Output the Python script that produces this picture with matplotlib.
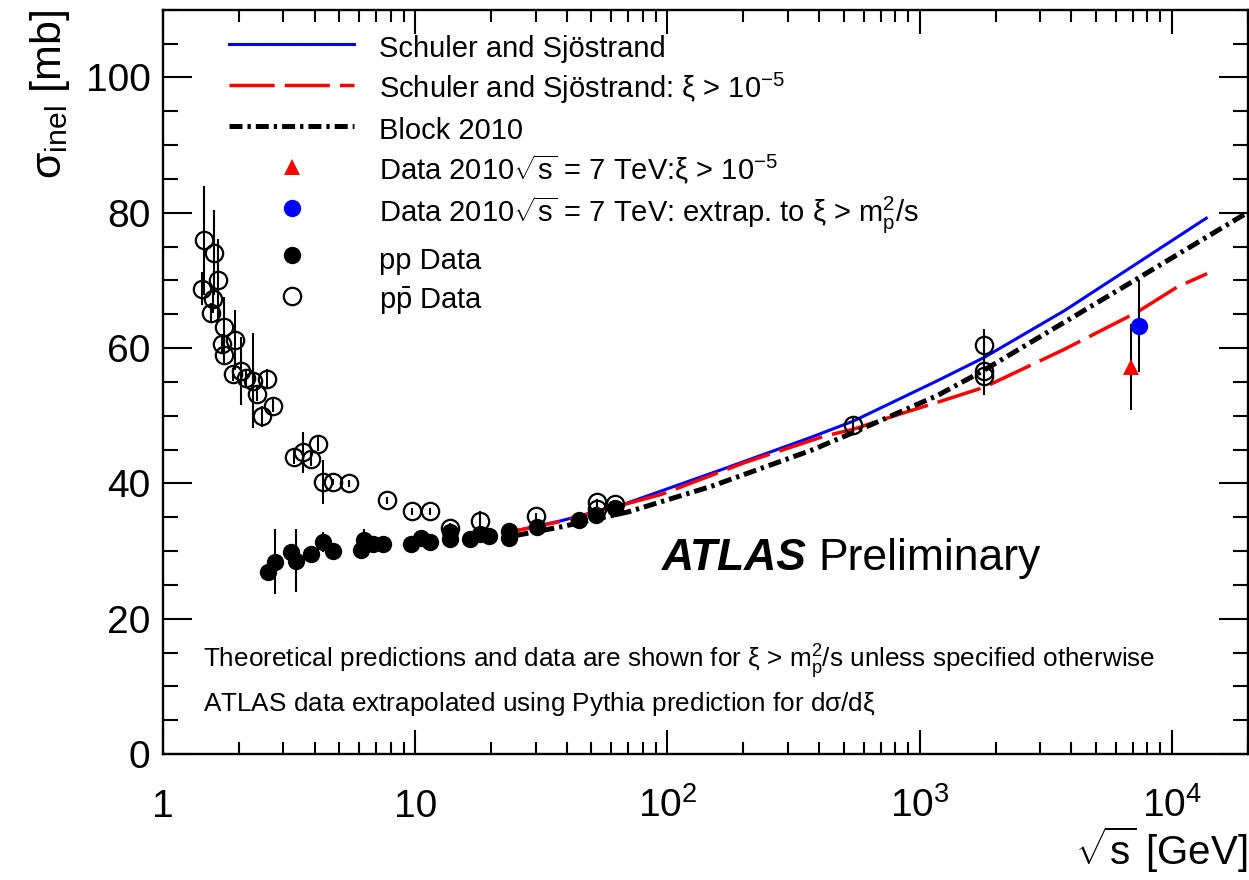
import matplotlib
matplotlib.use("Agg")
import matplotlib.pyplot as plt
import numpy as np
from matplotlib.ticker import FixedLocator, MultipleLocator, NullFormatter

plt.rcParams['font.family'] = ['Liberation Sans', 'DejaVu Sans']
plt.rcParams['mathtext.fontset'] = 'custom'
plt.rcParams['mathtext.rm'] = 'Liberation Sans'
plt.rcParams['mathtext.it'] = 'Liberation Sans:italic'
plt.rcParams['mathtext.bf'] = 'Liberation Sans:bold'
plt.rcParams['mathtext.sf'] = 'Liberation Sans'

# model curves (sqrt(s) in GeV, sigma in mb)
ss_x = [25, 38, 68, 160, 370, 545, 1180, 1800, 3740, 6800, 13700]
ss_y = [33.0, 34.5, 37.0, 41.9, 46.8, 49.2, 55.2, 58.6, 65.5, 71.8, 79.2]

ssxi_x = [25, 38, 95, 203, 420, 545, 795, 1180, 1800, 3740, 7280, 10480, 13800]
ssxi_y = [33.0, 34.4, 38.4, 43.1, 47.0, 48.0, 50.0, 52.0, 54.2, 59.8, 65.3, 69.0, 71.0]

block_x = [25, 38, 70, 150, 372, 552, 1178, 1775, 3740, 6820, 18900, 20000]
block_y = [32.3, 33.6, 35.8, 39.6, 44.9, 47.6, 53.0, 56.6, 63.8, 69.6, 79.5, 80.0]

# pp data
pp_x = [2.61, 2.77, 3.22, 3.38, 3.87, 4.30, 4.74, 6.10, 6.29, 6.78, 7.47, 9.61,
        10.5, 11.43, 13.7, 13.7, 16.5, 18.0, 19.7, 23.5, 23.5, 30.4, 44.5, 52.3, 61.8]
pp_y = [26.9, 28.4, 29.8, 28.6, 29.6, 31.3, 30.0, 30.1, 31.7, 31.0, 31.1, 31.1,
        32.0, 31.3, 31.8, 32.8, 31.8, 32.5, 32.2, 33.0, 32.0, 33.5, 34.6, 35.4, 36.3]
pp_err = [1.0, 4.8, 1.0, 4.7, 0.5, 1.5, 0.5, 0.5, 1.5, 1.0, 0.5, 0.5,
          0.5, 0.5, 0.5, 0.5, 0.5, 0.5, 0.5, 0.5, 0.5, 0.5, 0.5, 0.5, 0.5]

# ppbar data
ppb_x = [1.456, 1.59, 1.654, 1.43, 1.58, 1.556, 1.747, 1.926, 1.706, 1.747, 1.897,
         2.03, 2.14, 2.27, 2.35, 2.59, 2.73, 2.47, 3.32, 3.59, 3.87, 4.11, 4.30,
         4.71, 5.45, 7.70, 9.67, 11.43, 13.7, 18.0, 30.0, 52.6, 52.6, 61.8,
         546, 1800, 1800, 1800]
ppb_y = [75.9, 74.1, 70.1, 68.8, 67.2, 65.2, 63.1, 61.2, 60.6, 59.0, 56.1,
         56.6, 55.6, 55.2, 53.2, 55.4, 51.5, 49.9, 43.9, 44.6, 43.6, 45.8, 40.2,
         40.2, 40.0, 37.5, 35.9, 35.9, 33.4, 34.4, 35.2, 37.2, 36.2, 37.0,
         48.6, 60.5, 56.6, 55.9]
ppb_err = [8.0, 6.3, 6.0, 2.5, 2.0, 1.5, 4.5, 4.5, 1.5, 1.5, 1.0,
           5.0, 1.0, 7.0, 1.0, 1.5, 1.0, 1.5, 1.0, 3.0, 1.0, 1.0, 3.3,
           0.5, 0.5, 0.5, 0.5, 0.5, 0.8, 1.5, 0.5, 0.5, 0.5, 0.5,
           1.0, 2.3, 1.5, 2.8]

# ATLAS 7 TeV
atlas_xi_x, atlas_xi_y, atlas_xi_err = [6900], [57.2], [6.3]
atlas_ex_x, atlas_ex_y, atlas_ex_err = [7400], [63.3], [6.8]

fig = plt.figure(figsize=(12.49, 8.8), dpi=100)
ax = fig.add_axes([0.1305, 0.143, 0.8685, 0.846])

ax.plot(ss_x, ss_y, color='#0000ff', lw=2.2, zorder=2, label='Schuler and Sjöstrand')
ax.plot(ssxi_x, ssxi_y, color='#ff0000', lw=2.5, dashes=(13, 2.9), zorder=2,
        label=r'Schuler and Sjöstrand: $\mathrm{\xi}$ > 10$^{\mathrm{-5}}$')
ax.plot(block_x, block_y, color='k', lw=3.6, dashes=(2.6, 1.0, 0.66, 1.0), zorder=2,
        label='Block 2010')

ax.errorbar(ppb_x, ppb_y, yerr=ppb_err, fmt='none', ecolor='k', elinewidth=1.5, zorder=3)
ax.errorbar(pp_x, pp_y, yerr=pp_err, fmt='none', ecolor='k', elinewidth=1.5, zorder=3)
ax.errorbar(atlas_xi_x, atlas_xi_y, yerr=atlas_xi_err, fmt='none', ecolor='k', elinewidth=1.5, zorder=3)
ax.errorbar(atlas_ex_x, atlas_ex_y, yerr=atlas_ex_err, fmt='none', ecolor='k', elinewidth=1.5, zorder=3)

ax.plot(atlas_xi_x, atlas_xi_y, '^', color='#ff0000', ms=12, mew=0, zorder=6,
        label=r'Data 2010$\sqrt{\mathrm{s}}$ = 7 TeV:$\mathrm{\xi}$ > 10$^{\mathrm{-5}}$')
ax.plot(atlas_ex_x, atlas_ex_y, 'o', color='#0000ff', ms=12.5, mew=0, zorder=6,
        label=r'Data 2010$\sqrt{\mathrm{s}}$ = 7 TeV: extrap. to $\mathrm{\xi}$ > m$_{\mathrm{p}}^{\mathrm{2}}$/s')
ax.plot(pp_x, pp_y, 'o', color='k', ms=12.5, mew=0, zorder=5, label='pp Data')
ax.plot(ppb_x, ppb_y, 'o', mfc='none', mec='k', ms=12.5, mew=1.6, zorder=4,
        label=r'p$\mathrm{\bar{p}}$ Data')

ax.set_xscale('log')
ax.set_xlim(1, 20000)
ax.set_ylim(0, 110)

ax.xaxis.set_major_locator(FixedLocator([1, 10, 100, 1000, 10000]))
ax.set_xticklabels(['1', '10', r'10$^{\mathrm{2}}$', r'10$^{\mathrm{3}}$', r'10$^{\mathrm{4}}$'])
minors = [m * 10 ** d for d in range(0, 5) for m in range(2, 10) if m * 10 ** d <= 20000]
ax.xaxis.set_minor_locator(FixedLocator(minors))
ax.xaxis.set_minor_formatter(NullFormatter())
ax.yaxis.set_major_locator(MultipleLocator(20))
ax.yaxis.set_minor_locator(MultipleLocator(5))

ax.tick_params(which='both', direction='in', top=True, right=True, width=1.5, colors='k')
ax.tick_params(axis='x', which='major', length=17, labelsize=28, pad=45)
ax.tick_params(axis='x', which='minor', length=8.5)
ax.tick_params(axis='y', which='major', length=21, labelsize=28, pad=9)
ax.tick_params(axis='y', which='minor', length=11)
for lab in ax.get_xticklabels():
    lab.set_verticalalignment('baseline')
for sp in ax.spines.values():
    sp.set_linewidth(1.7)

ax.set_xlabel(r'$\sqrt{\mathrm{s}}$ [GeV]', fontsize=29, loc='right', labelpad=0)
ax.set_ylabel(r'$\mathrm{\sigma_{inel}}$ [mb]', fontsize=31, loc='top', labelpad=10)

handles, labels = ax.get_legend_handles_labels()
leg = ax.legend(handles, labels, loc='upper left', bbox_to_anchor=(0.050, 0.988),
                frameon=False, fontsize=21, handlelength=4.3, handletextpad=0.85,
                handleheight=1.42, labelspacing=0.22, borderaxespad=0)

ax.text(0.46, 0.263, 'ATLAS', transform=ax.transAxes, fontsize=32, fontweight='bold',
        fontstyle='italic', va='center', ha='left')
ax.text(0.604, 0.263, 'Preliminary', transform=ax.transAxes, fontsize=32,
        va='center', ha='left')
ax.text(0.037, 0.124, r'Theoretical predictions and data are shown for $\mathrm{\xi}$ > m$_{\mathrm{p}}^{\mathrm{2}}$/s unless specified otherwise',
        transform=ax.transAxes, fontsize=18.8, va='center', ha='left')
ax.text(0.037, 0.067, r'ATLAS data extrapolated using Pythia prediction for d$\mathrm{\sigma}$/d$\mathrm{\xi}$',
        transform=ax.transAxes, fontsize=18.8, va='center', ha='left')

fig.savefig('out.png', dpi=100)
